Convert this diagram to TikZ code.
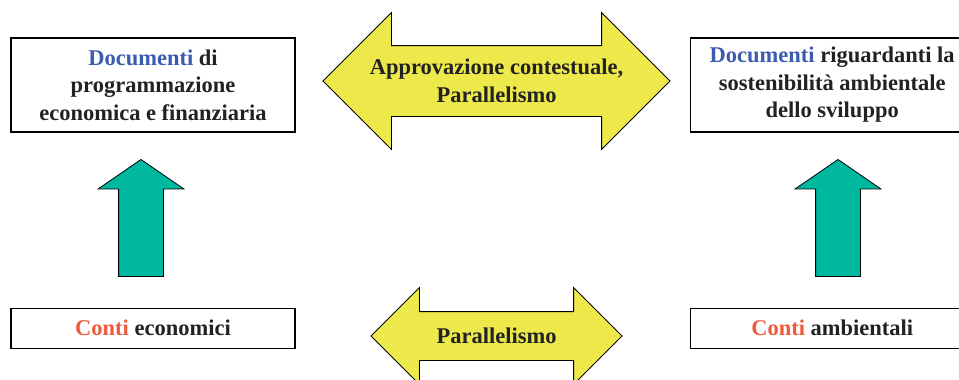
\documentclass[tikz,border=0pt]{standalone}
\usepackage{fontspec}
\setmainfont{Liberation Serif}
\usetikzlibrary{shapes.arrows,positioning}

\definecolor{docblue}{HTML}{3B5CAF}
\definecolor{contored}{HTML}{F05A3C}
\definecolor{arrowyellow}{HTML}{EDE94A}
\definecolor{arrowteal}{HTML}{00B8A0}
\definecolor{txtdark}{HTML}{222222}

\begin{document}
\begin{tikzpicture}[
    x=1pt, y=-1pt,
    node distance=175pt,
    box/.style={rectangle, draw, line width=1.2pt, minimum width=284pt, align=center, text=txtdark, font=\bfseries\fontsize{22.5}{27.5}\selectfont},
    dblarrow/.style={double arrow, draw, fill=arrowyellow, line width=0.8pt, double arrow head indent=0pt, double arrow tip angle=90, inner xsep=0pt},
    uparrow/.style={single arrow, draw, fill=arrowteal, line width=0.8pt, shape border rotate=90, single arrow head indent=0pt, single arrow tip angle=111, inner sep=22pt, minimum height=117pt, minimum width=85pt, single arrow head extend=20.5pt, anchor=tip},
    lbl/.style={align=center, text=txtdark, font=\bfseries\fontsize{22.5}{27.5}\selectfont}
]
    \useasboundingbox (0,0) rectangle (959,380);
    \clip (0,0) rectangle (959,380);

    % documenti
    \node[box, minimum height=94pt] (docEco) at (153,85) {\textcolor{docblue}{Documenti} di\\programmazione\\economica e finanziaria};
    \node[box, minimum height=94pt, right=394pt of docEco] (docAmb) {\textcolor{docblue}{Documenti} riguardanti la\\sostenibilità ambientale\\dello sviluppo};

    % conti
    \node[box, minimum height=40pt, below=of docEco] (contoEco) {\textcolor{contored}{Conti} economici};
    \node[box, minimum height=40pt, below=of docAmb] (contoAmb) {\textcolor{contored}{Conti} ambientali};

    % frecce
    \node[uparrow] (upEco) at (141,159) {};
    \node[uparrow] (upAmb) at (838,159) {};

    \node[dblarrow, inner ysep=35pt, minimum height=347pt, double arrow head extend=33pt] (approv) at (496.5,81) {};
    \node[lbl] (approvTxt) at (approv.center) {Approvazione contestuale,\\Parallelismo};

    \node[dblarrow, inner ysep=24pt, minimum height=251pt, double arrow head extend=24pt] (paral) at (496.5,336) {};
    \node[lbl] (paralTxt) at (paral.center) {Parallelismo};
\end{tikzpicture}
\end{document}
